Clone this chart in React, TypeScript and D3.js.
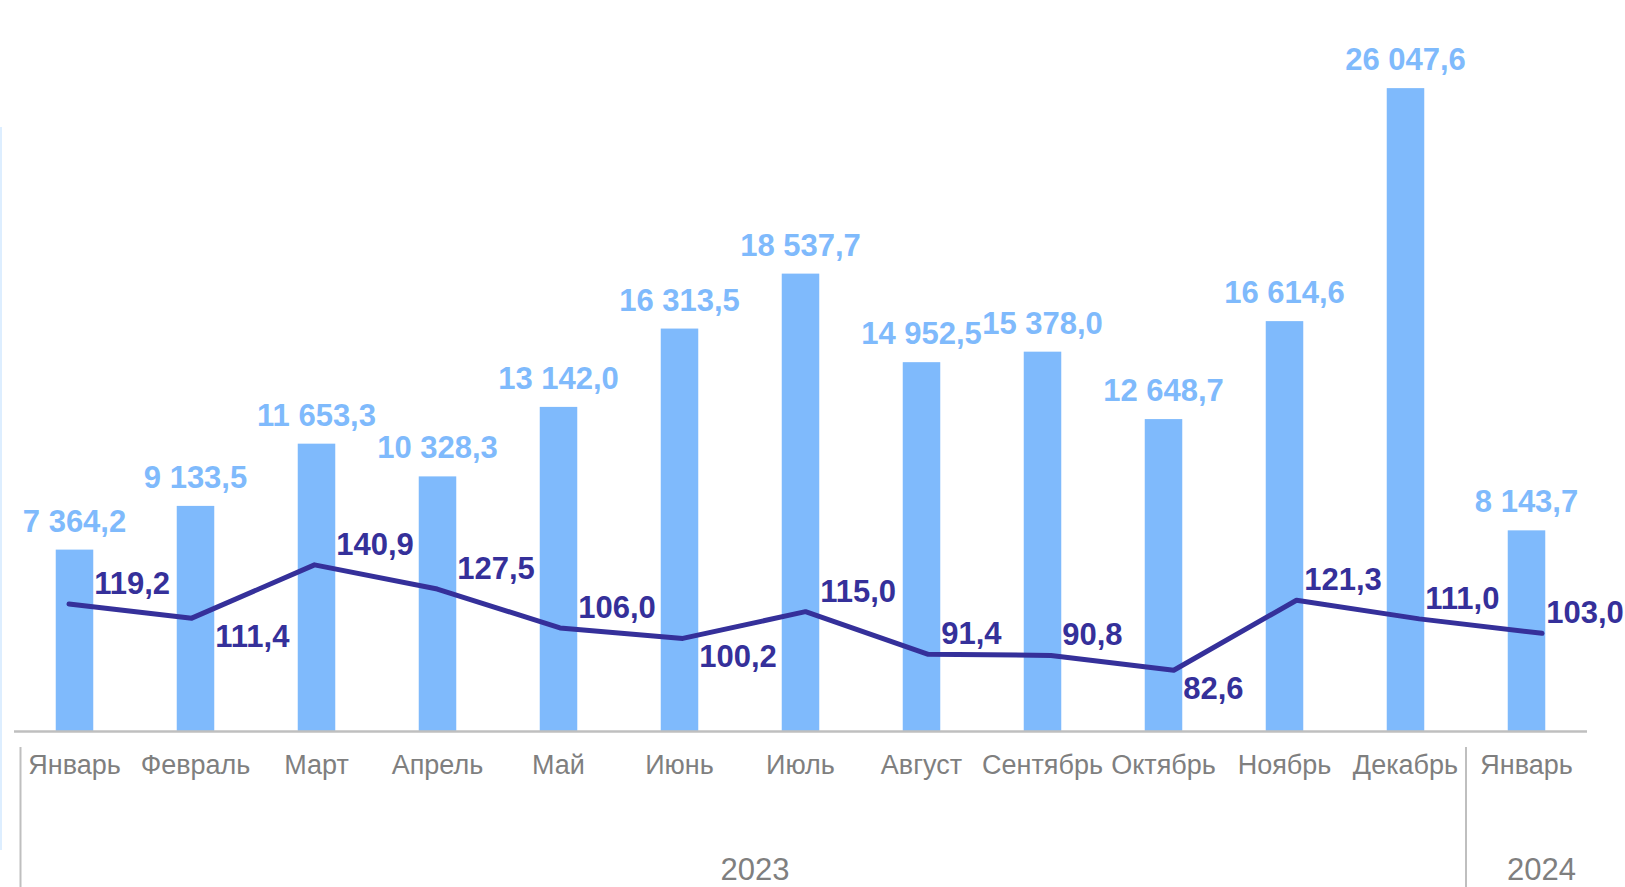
import React from 'react';
import * as d3 from 'd3';

// months on the category axis (two years)
const periodKeys = [
  '2023-01', '2023-02', '2023-03', '2023-04', '2023-05', '2023-06',
  '2023-07', '2023-08', '2023-09', '2023-10', '2023-11', '2023-12', '2024-01',
];
const monthNames = [
  'Январь', 'Февраль', 'Март', 'Апрель', 'Май', 'Июнь', 'Июль',
  'Август', 'Сентябрь', 'Октябрь', 'Ноябрь', 'Декабрь', 'Январь',
];
const yearLabels = ['2023', '2024'];
const yearMonthCounts = [12, 1];

// bars: amounts, line: index values
const amounts = [
  7364.2, 9133.5, 11653.3, 10328.3, 13142.0, 16313.5, 18537.7,
  14952.5, 15378.0, 12648.7, 16614.6, 26047.6, 8143.7,
];
const indexValues = [
  119.2, 111.4, 140.9, 127.5, 106.0, 100.2, 115.0,
  91.4, 90.8, 82.6, 121.3, 111.0, 103.0,
];
// index labels that sit under the line instead of over it
const indexLabelsBelow = ['2023-02', '2023-06', '2023-10'];

const BAR_COLOR = '#7fbafc';
const LINE_COLOR = '#35309a';
const AXIS_COLOR = '#bfbfbf';
const TEXT_GREY = '#7f7f7f';
const FONT = '"Liberation Sans", Arial, sans-serif';

const W = 1625;
const H = 887;

const ru = d3.formatLocale({ decimal: ',', thousands: ' ', grouping: [3], currency: ['', ''] });
const fmt = ru.format(',.1f');

export default function App() {
  const baseY = 731.5;

  const x = d3.scaleBand<string>()
    .domain(periodKeys)
    .range([14, 1587])
    .paddingInner(0.69)
    .paddingOuter(0.345);

  const xLine = d3.scalePoint<string>()
    .domain(periodKeys)
    .range([69, 1542]);

  const yBar = d3.scaleLinear()
    .domain([0, 26000])
    .range([baseY, baseY - 26000 * 0.0247]);

  const yLine = d3.scaleLinear()
    .domain([0, 150])
    .range([819.5, 548.4]);

  const line = d3.line<number>()
    .x((_, i) => xLine(periodKeys[i]) as number)
    .y(d => yLine(d));

  const bw = x.bandwidth();
  const step = x.step();
  const [r0, r1] = x.range();

  // year groups
  let acc = 0;
  const groups = yearLabels.map((label, gi) => {
    const start = acc;
    acc += yearMonthCounts[gi];
    const x0 = (x(periodKeys[start]) as number) - (step - bw) / 2;
    const x1 = x0 + yearMonthCounts[gi] * step;
    return { label, x0, x1 };
  });

  return (
    <div style={{ position: 'fixed', left: 0, top: 0, width: W, height: H, background: '#fff' }}>
      <svg width={W} height={H} style={{ display: 'block' }} fontFamily={FONT}>
        {/* faint frame edge on the left */}
        <rect x={0} y={127} width={2} height={723} fill="#ddeeff" />

        {amounts.map((v, i) => {
          const k = periodKeys[i];
          const bx = x(k) as number;
          return (
            <g key={k}>
              <rect x={bx} y={yBar(v)} width={bw} height={baseY - yBar(v)} fill={BAR_COLOR} />
              <text
                x={bx + bw / 2}
                y={yBar(v) - 18}
                textAnchor="middle"
                fontSize={31}
                fontWeight="bold"
                fill={BAR_COLOR}
              >
                {fmt(v)}
              </text>
            </g>
          );
        })}

        <line x1={r0} x2={r1} y1={baseY} y2={baseY} stroke={AXIS_COLOR} strokeWidth={2.5} />

        <path
          d={line(indexValues) || ''}
          fill="none"
          stroke={LINE_COLOR}
          strokeWidth={5}
          strokeLinejoin="round"
          strokeLinecap="round"
        />

        {indexValues.map((v, i) => {
          const k = periodKeys[i];
          const below = indexLabelsBelow.includes(k);
          const lx = (x(k) as number) + bw + 1;
          const ly = yLine(v) + (below ? 29 : -10);
          return (
            <text key={k} x={lx} y={ly} fontSize={31} fontWeight="bold" fill={LINE_COLOR}>
              {fmt(v)}
            </text>
          );
        })}

        {monthNames.map((m, i) => {
          const k = periodKeys[i];
          return (
            <text
              key={k}
              x={(x(k) as number) + bw / 2}
              y={774}
              textAnchor="middle"
              fontSize={27}
              fill={TEXT_GREY}
            >
              {m}
            </text>
          );
        })}

        {groups.map((g, gi) => (
          <g key={g.label}>
            <line
              x1={gi === 0 ? g.x0 + 6.5 : g.x0}
              x2={gi === 0 ? g.x0 + 6.5 : g.x0}
              y1={747}
              y2={H}
              stroke={AXIS_COLOR}
              strokeWidth={2}
            />
            <text
              x={(g.x0 + g.x1) / 2 + 15}
              y={880}
              textAnchor="middle"
              fontSize={31}
              fill={TEXT_GREY}
            >
              {g.label}
            </text>
          </g>
        ))}
      </svg>
    </div>
  );
}
